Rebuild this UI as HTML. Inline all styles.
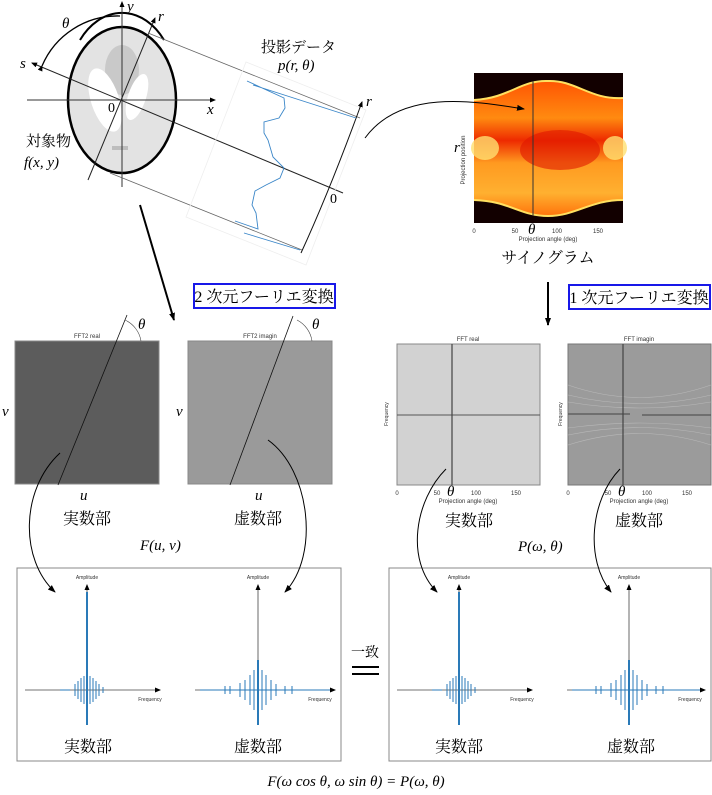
<!DOCTYPE html>
<html><head><meta charset="utf-8"><style>
html,body{margin:0;padding:0;background:#fff;}
svg{display:block;font-family:"Liberation Serif","Noto Serif CJK SC",serif;}
.sm{font-family:"Liberation Sans",sans-serif;font-size:6px;fill:#333;}
.jp{font-family:"Liberation Serif","Noto Serif CJK JP",serif;font-size:16px;}
.it{font-style:italic;font-size:15px;}
</style></head><body>
<svg width="712" height="795" viewBox="0 0 712 795" xmlns="http://www.w3.org/2000/svg">
<defs>
<marker id="ah" markerWidth="8" markerHeight="8" refX="7" refY="4" orient="auto" markerUnits="userSpaceOnUse"><path d="M0,1 L8,4 L0,7 Z" fill="#000"/></marker>
<marker id="as" markerWidth="6" markerHeight="6" refX="5" refY="3" orient="auto" markerUnits="userSpaceOnUse"><path d="M0,0.5 L6,3 L0,5.5 Z" fill="#000"/></marker>
<linearGradient id="sino" x1="0" y1="0" x2="0" y2="1">
<stop offset="0" stop-color="#ff4a00"/><stop offset="0.3" stop-color="#ff8a10"/><stop offset="0.45" stop-color="#ee2a00"/><stop offset="0.6" stop-color="#ff9a20"/><stop offset="0.8" stop-color="#ffb030"/><stop offset="1" stop-color="#ff6000"/>
</linearGradient>
</defs>

<ellipse cx="122" cy="100" rx="54" ry="73" fill="#e3e3e3" stroke="#000" stroke-width="2.5"/>
<path d="M80,40 A54,73 0 0 1 164,40" fill="none" stroke="#000" stroke-width="2"/>
<ellipse cx="122" cy="70" rx="17" ry="25" fill="#c9c9c9"/>
<ellipse cx="105" cy="100" rx="14" ry="33" fill="#fff" transform="rotate(-18 105 100)"/>
<ellipse cx="137" cy="97" rx="9" ry="24" fill="#fff" transform="rotate(18 137 97)"/>
<rect x="112" y="146" width="16" height="4" fill="#bdbdbd"/>
<line x1="27" y1="100" x2="215" y2="100" stroke="#333" stroke-width="1" marker-end="url(#as)"/>
<line x1="122" y1="187" x2="122" y2="2" stroke="#333" stroke-width="1" marker-end="url(#as)"/>
<line x1="88" y1="180" x2="155" y2="18" stroke="#222" stroke-width="1" marker-end="url(#as)"/>
<line x1="343" y1="193" x2="32" y2="63" stroke="#222" stroke-width="1" marker-end="url(#as)"/>
<path d="M42,66 A82,82 0 0 1 120,16" fill="none" stroke="#000" stroke-width="1.3" marker-start="url(#as)"/>
<text x="62" y="28" class="it">θ</text>
<text x="20" y="68" class="it">s</text>
<text x="127" y="11" class="it">y</text>
<text x="158" y="21" class="it">r</text>
<text x="207" y="114" class="it">x</text>
<text x="108" y="112" font-size="14">0</text>
<text x="26" y="146" class="jp" style="font-size:15px">対象物</text>
<text x="24" y="167" class="it">f(x, y)</text>

<line x1="148" y1="33" x2="360" y2="118" stroke="#666" stroke-width="0.8"/>
<line x1="110" y1="173" x2="302" y2="250" stroke="#666" stroke-width="0.8"/>
<polygon points="246,62 366,110 306,265 186,217" fill="none" stroke="#eee" stroke-width="0.8"/>
<path d="M301,253 Q330,190 362,102" fill="none" stroke="#111" stroke-width="1" marker-end="url(#as)"/>
<text x="366" y="106" class="it" font-size="13">r</text>
<text x="330" y="203" font-size="14">0</text>
<path d="M247,81 L284,98 L285,108 L279,118 L264,122 L264,133 L268,140 L273,157 L284,168 L280,178 L266,185 L255,191 L252,205 L256,213 L258,229 L235,221 M253,85 L356,118 M244,233 L300,250" fill="none" stroke="#3a86c8" stroke-width="0.9"/>
<text x="261" y="52" class="jp" style="font-size:15px">投影データ</text>
<text x="278" y="70" class="it">p(r, θ)</text>

<line x1="140" y1="205" x2="174" y2="320" stroke="#000" stroke-width="2" marker-end="url(#ah)"/>

<rect x="474" y="73" width="149" height="150" fill="url(#sino)"/>
<path d="M474,73 L474,100 C510,98 520,80 548,81 C576,80 590,100 623,98 L623,73 Z" fill="#120000"/>
<path d="M474,223 L474,200 C510,201 520,216 548,216 C576,216 590,200 623,200 L623,223 Z" fill="#120000"/>
<path d="M474,100 C510,98 520,80 548,81 C576,80 590,100 623,98" fill="none" stroke="#ffe060" stroke-width="2"/>
<path d="M474,200 C510,201 520,216 548,216 C576,216 590,200 623,200" fill="none" stroke="#ffe060" stroke-width="2"/>
<ellipse cx="560" cy="150" rx="40" ry="20" fill="#e01800" opacity="0.6"/>
<ellipse cx="485" cy="148" rx="14" ry="12" fill="#ffe070" opacity="0.8"/>
<ellipse cx="615" cy="148" rx="12" ry="12" fill="#ffe070" opacity="0.8"/>
<line x1="533" y1="81" x2="533" y2="216" stroke="#333" stroke-width="1"/>
<text x="465" y="160" class="sm" transform="rotate(-90 465 160)" text-anchor="middle">Projection position</text>
<text x="454" y="152" class="it">r</text>
<text x="474" y="233" class="sm" text-anchor="middle">0</text>
<text x="515" y="233" class="sm" text-anchor="middle">50</text>
<text x="528" y="234" class="it" font-size="11">θ</text>
<text x="557" y="233" class="sm" text-anchor="middle">100</text>
<text x="598" y="233" class="sm" text-anchor="middle">150</text>
<text x="548" y="241" class="sm" text-anchor="middle">Projection angle (deg)</text>
<text x="548" y="263" class="jp" text-anchor="middle">サイノグラム</text>
<path d="M365,138 C400,90 470,100 524,109" fill="none" stroke="#000" stroke-width="1" marker-end="url(#ah)"/>

<line x1="548" y1="282" x2="548" y2="325" stroke="#000" stroke-width="2" marker-end="url(#ah)"/>
<rect x="569" y="285" width="141" height="24" fill="#fff" stroke="#1818e8" stroke-width="2"/>
<text x="639" y="303" class="jp" text-anchor="middle">1 次元フーリエ変換</text>
<rect x="194" y="284" width="141" height="24" fill="#fff" stroke="#1818e8" stroke-width="2"/>
<text x="264" y="302" class="jp" text-anchor="middle">2 次元フーリエ変換</text>

<text x="87" y="338" class="sm" text-anchor="middle">FFT2 real</text>
<rect x="15" y="341" width="144" height="143" fill="#5c5c5c" stroke="#888" stroke-width="1"/>
<line x1="58" y1="485" x2="127" y2="315" stroke="#111" stroke-width="0.8"/>
<path d="M125,320 A28,28 0 0 1 141,341" fill="none" stroke="#444" stroke-width="0.6"/>
<text x="138" y="329" class="it" font-size="13">θ</text>
<text x="2" y="416" class="it">v</text>
<text x="80" y="500" class="it">u</text>
<text x="87" y="524" class="jp" text-anchor="middle">実数部</text>

<text x="260" y="338" class="sm" text-anchor="middle">FFT2 imagin</text>
<rect x="188" y="341" width="144" height="143" fill="#9a9a9a" stroke="#888" stroke-width="1"/>
<line x1="230" y1="485" x2="293" y2="316" stroke="#111" stroke-width="0.8"/>
<path d="M297,320 A28,28 0 0 1 312,341" fill="none" stroke="#444" stroke-width="0.6"/>
<text x="312" y="329" class="it" font-size="13">θ</text>
<text x="176" y="416" class="it">v</text>
<text x="255" y="500" class="it">u</text>
<text x="258" y="524" class="jp" text-anchor="middle">虚数部</text>
<text x="140" y="550" class="it" font-size="17">F(u, v)</text>

<text x="468" y="341" class="sm" text-anchor="middle">FFT real</text>
<rect x="397" y="344" width="143" height="141" fill="#d2d2d2" stroke="#888" stroke-width="1"/>
<line x1="397" y1="415" x2="540" y2="415" stroke="#555" stroke-width="1"/>
<line x1="452" y1="344" x2="452" y2="485" stroke="#444" stroke-width="1.2"/>
<text x="388" y="414" class="sm" transform="rotate(-90 388 414)" text-anchor="middle" style="font-size:5px">Frequency</text>
<text x="397" y="495" class="sm" text-anchor="middle">0</text>
<text x="437" y="495" class="sm" text-anchor="middle">50</text>
<text x="447" y="496" class="it" font-size="11">θ</text>
<text x="476" y="495" class="sm" text-anchor="middle">100</text>
<text x="516" y="495" class="sm" text-anchor="middle">150</text>
<text x="468" y="503" class="sm" text-anchor="middle">Projection angle (deg)</text>
<text x="469" y="526" class="jp" text-anchor="middle">実数部</text>

<text x="639" y="341" class="sm" text-anchor="middle">FFT imagin</text>
<rect x="568" y="344" width="143" height="141" fill="#9b9b9b" stroke="#777" stroke-width="1"/>
<g stroke="#b8b8b8" stroke-width="0.6" fill="none">
<path d="M568,395 Q640,412 711,395"/><path d="M568,402 Q640,414 711,402"/><path d="M568,428 Q640,418 711,428"/><path d="M568,435 Q640,420 711,435"/><path d="M568,385 Q640,410 711,385"/><path d="M568,445 Q640,422 711,445"/>
</g>
<line x1="568" y1="414" x2="630" y2="414" stroke="#555" stroke-width="1.2"/>
<line x1="642" y1="415" x2="711" y2="415" stroke="#555" stroke-width="1.2"/>
<line x1="623" y1="344" x2="623" y2="485" stroke="#444" stroke-width="1.2"/>
<text x="562" y="414" class="sm" transform="rotate(-90 562 414)" text-anchor="middle" style="font-size:5px">Frequency</text>
<text x="568" y="495" class="sm" text-anchor="middle">0</text>
<text x="608" y="495" class="sm" text-anchor="middle">50</text>
<text x="618" y="496" class="it" font-size="11">θ</text>
<text x="647" y="495" class="sm" text-anchor="middle">100</text>
<text x="687" y="495" class="sm" text-anchor="middle">150</text>
<text x="639" y="503" class="sm" text-anchor="middle">Projection angle (deg)</text>
<text x="639" y="526" class="jp" text-anchor="middle">虚数部</text>
<text x="518" y="551" class="it" font-size="17">P(ω, θ)</text>

<rect x="17" y="568" width="324" height="193" fill="#fff" stroke="#888" stroke-width="1"/>
<rect x="389" y="568" width="322" height="193" fill="#fff" stroke="#888" stroke-width="1"/>

<g fill="none" stroke="#000" stroke-width="1" marker-end="url(#ah)">
<path d="M60,453 C20,490 20,560 55,592"/>
<path d="M268,440 C310,470 320,555 285,592"/>
<path d="M446,469 C415,500 405,560 437,592"/>
<path d="M620,469 C590,500 585,560 611,592"/>
</g>

<g stroke="#444" stroke-width="0.8" marker-end="url(#as)">
<line x1="25" y1="690" x2="160" y2="690"/><line x1="87" y1="725" x2="87" y2="585"/>
<line x1="195" y1="690" x2="335" y2="690"/><line x1="258" y1="725" x2="258" y2="585"/>
<line x1="397" y1="690" x2="532" y2="690"/><line x1="459" y1="725" x2="459" y2="585"/>
<line x1="567" y1="690" x2="705" y2="690"/><line x1="629" y1="725" x2="629" y2="585"/>
</g>
<g stroke="#2a7ab8" fill="none">
<line x1="87" y1="592" x2="87" y2="725" stroke-width="2"/>
<path d="M60,690 L70,690 M75,684 L75,696 M78,681 L78,699 M81,678 L81,702 M84,676 L84,704 M90,676 L90,704 M93,678 L93,702 M96,681 L96,699 M99,684 L99,696 M103,687 L103,693" stroke-width="1"/>
<line x1="258" y1="660" x2="258" y2="725" stroke-width="2"/>
<path d="M200,690 L330,690 M225,686 L225,694 M230,686 L230,694 M240,683 L240,697 M245,680 L245,700 M250,675 L250,705 M254,670 L254,710 M262,670 L262,710 M266,675 L266,705 M271,680 L271,700 M276,684 L276,696 M285,686 L285,694 M292,686 L292,694" stroke-width="1"/>
<line x1="459" y1="592" x2="459" y2="725" stroke-width="2"/>
<path d="M432,690 L442,690 M447,684 L447,696 M450,681 L450,699 M453,678 L453,702 M456,676 L456,704 M462,676 L462,704 M465,678 L465,702 M468,681 L468,699 M471,684 L471,696 M475,687 L475,693" stroke-width="1"/>
<line x1="629" y1="660" x2="629" y2="725" stroke-width="2"/>
<path d="M572,690 L700,690 M596,686 L596,694 M601,686 L601,694 M611,683 L611,697 M616,680 L616,700 M621,675 L621,705 M625,670 L625,710 M633,670 L633,710 M637,675 L637,705 M642,680 L642,700 M647,684 L647,696 M656,686 L656,694 M663,686 L663,694" stroke-width="1"/>
</g>
<g class="sm" style="font-size:5px">
<text x="87" y="579" text-anchor="middle">Amplitude</text><text x="150" y="701" text-anchor="middle">Frequency</text>
<text x="258" y="579" text-anchor="middle">Amplitude</text><text x="320" y="701" text-anchor="middle">Frequency</text>
<text x="459" y="579" text-anchor="middle">Amplitude</text><text x="522" y="701" text-anchor="middle">Frequency</text>
<text x="629" y="579" text-anchor="middle">Amplitude</text><text x="690" y="701" text-anchor="middle">Frequency</text>
</g>
<text x="88" y="752" class="jp" text-anchor="middle">実数部</text>
<text x="258" y="752" class="jp" text-anchor="middle">虚数部</text>
<text x="459" y="752" class="jp" text-anchor="middle">実数部</text>
<text x="631" y="752" class="jp" text-anchor="middle">虚数部</text>

<text x="365" y="657" class="jp" text-anchor="middle" style="font-size:14px">一致</text>
<rect x="352" y="666" width="27" height="2" fill="#000"/>
<rect x="352" y="673" width="27" height="2" fill="#000"/>

<text x="356" y="786" class="it" font-size="16" text-anchor="middle">F(ω cos θ, ω sin θ) = P(ω, θ)</text>
</svg>
</body></html>
